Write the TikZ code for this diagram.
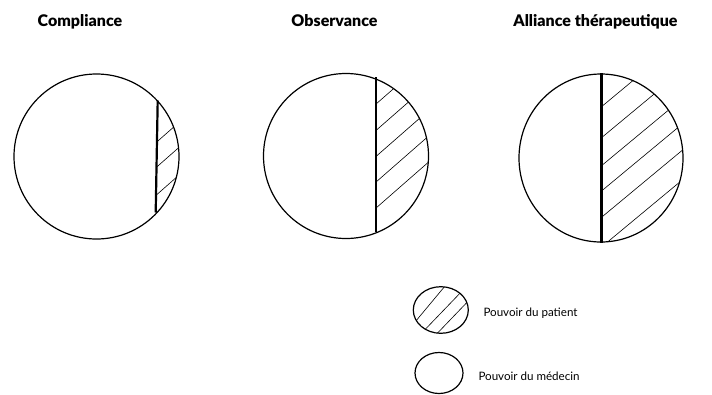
\documentclass[tikz,border=0pt]{standalone}
\usepackage{fontspec}
\setmainfont{Lato}[BoldFont={Lato Black}]
\usetikzlibrary{shapes.geometric}
\begin{document}
\begin{tikzpicture}[x=1pt,y=-1pt,
  outline/.style={draw=black,line width=1.2pt},
  divider/.style={draw=black,line width=2.2pt},
  hatch/.style={draw=black,line width=0.6pt},
  title/.style={font=\bfseries\fontsize{16}{19}\selectfont,inner sep=0pt,anchor=base},
  legtext/.style={font=\fontsize{11.6}{13}\selectfont,inner sep=0pt,anchor=base west}]
\useasboundingbox (0,0) rectangle (712,394);
% titles
\node[title] (t1) at (80,26.7) {Compliance};
\node[title] (t2) at (334.5,26.7) {Observance};
\node[title] (t3) at (595.5,26.7) {Alliance thérapeutique};
% circle 1
\begin{scope}
  \clip (96.5,156.5) circle (82.5);
  \clip (156.5,0) rectangle (200,300);
  \foreach \y in {142.3,167.3,195} \draw[hatch] (150,\y+5.6) -- ++(50,-44);
\end{scope}
\node[circle,outline,minimum size=165pt,inner sep=0pt] (c1) at (96.5,156.5) {};
\draw[divider] (157.7,100.5) -- (155.7,212.5);
% circle 2
\begin{scope}
  \clip (346,156) circle (82.5);
  \clip (375.7,0) rectangle (440,300);
  \foreach \y in {104.3,130.7,156.7,182.3,208.3} \draw[hatch] (370,\y+5) -- ++(80,-70);
\end{scope}
\node[circle,outline,minimum size=165pt,inner sep=0pt] (c2) at (346,156) {};
\draw[divider] (375.7,77) -- (375.7,232);
% circle 3
\begin{scope}
  \clip (601,158) ellipse (82 and 84);
  \clip (601.5,0) rectangle (700,300);
  \foreach \y in {106.7,137.7,165.7,191,217.3,247} \draw[hatch] (595,\y+5.4) -- ++(100,-83);
\end{scope}
\node[ellipse,outline,minimum width=164pt,minimum height=168pt,inner sep=0pt] (c3) at (601,158) {};
\draw[divider] (601.5,73) -- (601.5,243);
% legend
\begin{scope}
  \clip (440.8,310) ellipse (27.5 and 23.3);
  \draw[hatch] (406.7,332) -- (451.7,278);
  \draw[hatch] (415,340) -- (465,288);
  \draw[hatch] (428,343) -- (475,294);
\end{scope}
\node[ellipse,outline,minimum width=55pt,minimum height=46.6pt,inner sep=0pt] (e1) at (440.8,310) {};
\node[legtext] (l1) at (483.3,316.7) {Pouvoir du patient};
\node[ellipse,outline,minimum width=48pt,minimum height=41pt,inner sep=0pt] (e2) at (439,373) {};
\node[legtext] (l2) at (478.3,380) {Pouvoir du médecin};
\end{tikzpicture}
\end{document}
